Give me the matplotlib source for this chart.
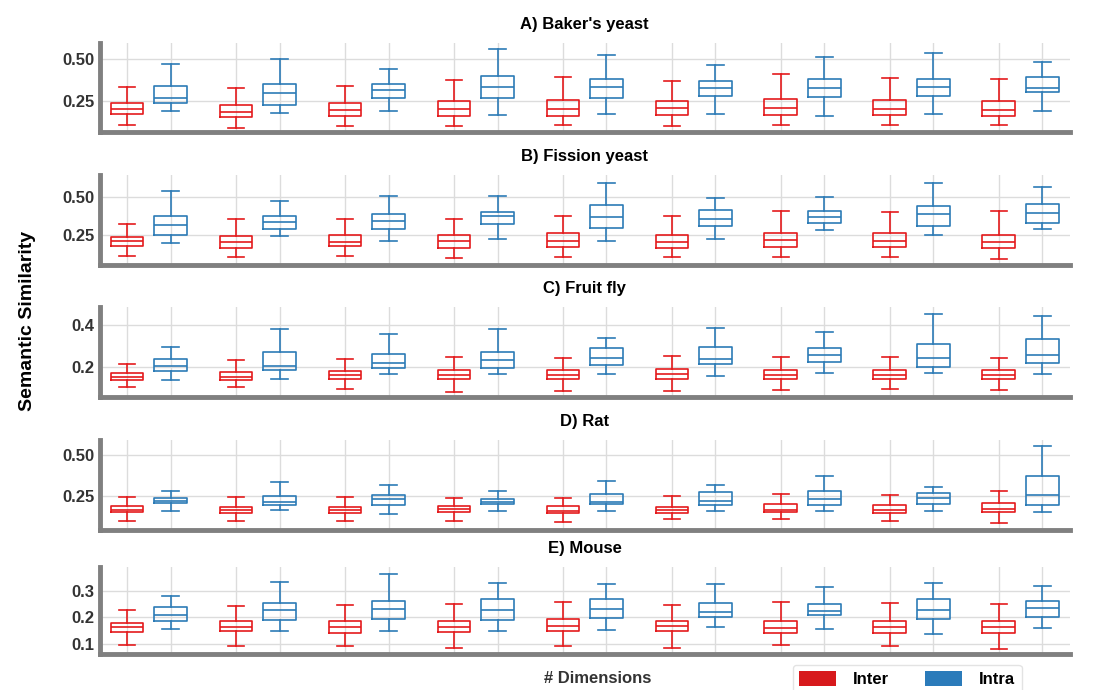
import numpy as np
import matplotlib.pyplot as plt
from matplotlib.patches import Patch

plt.rcParams['font.family'] = ['Liberation Sans', 'DejaVu Sans']

titles = ["A) Baker's yeast", "B) Fission yeast", "C) Fruit fly", "D) Rat", "E) Mouse"]
n_groups = 9

# each row: whislo, q1, median, q3, whishi -- one row per dimension setting
inter_A = [[0.107, 0.171, 0.200, 0.238, 0.337], [0.087, 0.153, 0.185, 0.224, 0.329],
           [0.101, 0.159, 0.196, 0.238, 0.341], [0.099, 0.159, 0.200, 0.250, 0.375],
           [0.107, 0.159, 0.200, 0.256, 0.397], [0.099, 0.165, 0.208, 0.250, 0.373],
           [0.107, 0.163, 0.206, 0.262, 0.411], [0.107, 0.163, 0.202, 0.256, 0.389],
           [0.107, 0.159, 0.198, 0.248, 0.381]]
intra_A = [[0.190, 0.236, 0.266, 0.339, 0.472], [0.179, 0.226, 0.298, 0.355, 0.502],
           [0.190, 0.268, 0.315, 0.351, 0.444], [0.165, 0.270, 0.337, 0.399, 0.560],
           [0.171, 0.268, 0.337, 0.385, 0.526], [0.171, 0.278, 0.327, 0.369, 0.468],
           [0.157, 0.276, 0.327, 0.381, 0.514], [0.169, 0.280, 0.337, 0.385, 0.536],
           [0.187, 0.302, 0.327, 0.397, 0.482]]

inter_B = [[0.111, 0.175, 0.206, 0.235, 0.319], [0.104, 0.162, 0.204, 0.243, 0.356],
           [0.111, 0.173, 0.201, 0.246, 0.352], [0.093, 0.162, 0.206, 0.246, 0.356],
           [0.102, 0.170, 0.210, 0.261, 0.378], [0.102, 0.164, 0.199, 0.250, 0.378],
           [0.102, 0.166, 0.215, 0.263, 0.405], [0.106, 0.168, 0.210, 0.263, 0.398],
           [0.091, 0.162, 0.201, 0.252, 0.405]]
intra_B = [[0.195, 0.248, 0.312, 0.378, 0.542], [0.243, 0.288, 0.336, 0.374, 0.476],
           [0.208, 0.288, 0.343, 0.387, 0.509], [0.219, 0.321, 0.374, 0.400, 0.509],
           [0.206, 0.296, 0.365, 0.447, 0.595], [0.221, 0.308, 0.352, 0.412, 0.491],
           [0.285, 0.327, 0.365, 0.405, 0.502], [0.252, 0.310, 0.389, 0.440, 0.591],
           [0.290, 0.327, 0.392, 0.454, 0.569]]

inter_C = [[0.105, 0.138, 0.152, 0.170, 0.213], [0.102, 0.135, 0.152, 0.175, 0.232],
           [0.094, 0.143, 0.162, 0.181, 0.237], [0.078, 0.141, 0.160, 0.186, 0.246],
           [0.086, 0.141, 0.160, 0.184, 0.244], [0.084, 0.143, 0.165, 0.189, 0.254],
           [0.089, 0.140, 0.160, 0.184, 0.246], [0.095, 0.140, 0.162, 0.184, 0.249],
           [0.089, 0.141, 0.160, 0.184, 0.243]]
intra_C = [[0.138, 0.181, 0.205, 0.237, 0.294], [0.144, 0.183, 0.205, 0.271, 0.381],
           [0.167, 0.195, 0.219, 0.260, 0.356], [0.167, 0.195, 0.233, 0.271, 0.381],
           [0.167, 0.210, 0.241, 0.289, 0.341], [0.156, 0.214, 0.237, 0.294, 0.387],
           [0.171, 0.222, 0.256, 0.289, 0.367], [0.171, 0.200, 0.241, 0.310, 0.456],
           [0.167, 0.219, 0.256, 0.333, 0.443]]

inter_D = [[0.095, 0.147, 0.165, 0.184, 0.240], [0.097, 0.145, 0.163, 0.182, 0.240],
           [0.095, 0.141, 0.163, 0.182, 0.244], [0.095, 0.147, 0.167, 0.188, 0.233],
           [0.087, 0.143, 0.159, 0.184, 0.238], [0.107, 0.141, 0.163, 0.182, 0.246],
           [0.107, 0.147, 0.165, 0.196, 0.262], [0.093, 0.143, 0.163, 0.190, 0.256],
           [0.083, 0.147, 0.167, 0.202, 0.281]]
intra_D = [[0.155, 0.202, 0.219, 0.238, 0.279], [0.161, 0.192, 0.213, 0.250, 0.331],
           [0.136, 0.190, 0.231, 0.256, 0.316], [0.159, 0.198, 0.213, 0.231, 0.277],
           [0.159, 0.196, 0.213, 0.262, 0.337], [0.155, 0.190, 0.217, 0.271, 0.316],
           [0.155, 0.190, 0.227, 0.281, 0.372], [0.159, 0.200, 0.238, 0.267, 0.306],
           [0.151, 0.192, 0.252, 0.372, 0.554]]

inter_E = [[0.093, 0.145, 0.162, 0.178, 0.228], [0.090, 0.146, 0.163, 0.184, 0.244],
           [0.090, 0.141, 0.162, 0.184, 0.248], [0.085, 0.144, 0.163, 0.187, 0.252],
           [0.090, 0.146, 0.168, 0.192, 0.259], [0.085, 0.146, 0.166, 0.186, 0.248],
           [0.093, 0.140, 0.161, 0.186, 0.259], [0.090, 0.141, 0.162, 0.186, 0.255],
           [0.081, 0.140, 0.162, 0.186, 0.252]]
intra_E = [[0.156, 0.186, 0.208, 0.238, 0.280], [0.147, 0.191, 0.227, 0.255, 0.335],
           [0.147, 0.192, 0.230, 0.263, 0.366], [0.146, 0.191, 0.227, 0.268, 0.331],
           [0.153, 0.198, 0.232, 0.268, 0.326], [0.162, 0.202, 0.221, 0.255, 0.326],
           [0.155, 0.207, 0.224, 0.252, 0.316], [0.137, 0.194, 0.229, 0.270, 0.331],
           [0.161, 0.201, 0.235, 0.263, 0.320]]

inter_all = [inter_A, inter_B, inter_C, inter_D, inter_E]
intra_all = [intra_A, intra_B, intra_C, intra_D, intra_E]
ylims = [(0.065, 0.60), (0.05, 0.645), (0.057, 0.487), (0.04, 0.59), (0.06, 0.39)]
yticks = [[0.25, 0.50], [0.25, 0.50], [0.2, 0.4], [0.25, 0.50], [0.1, 0.2, 0.3]]
ytick_fmt = ['{:.2f}', '{:.2f}', '{:.1f}', '{:.2f}', '{:.1f}']

red = '#e41a1c'
blue = '#2c7bb6'
spine_gray = '#808080'

# axes boxes in figure fraction
ax_bottoms = [0.809, 0.616, 0.425, 0.232, 0.052]
ax_heights = [0.129, 0.130, 0.130, 0.130, 0.126]

fig = plt.figure(figsize=(10.97, 6.90), dpi=100)


def to_stats(rows):
    return [dict(whislo=r[0], q1=r[1], med=r[2], q3=r[3], whishi=r[4], fliers=[]) for r in rows]


for k in range(5):
    ax = fig.add_axes([0.091, ax_bottoms[k], 0.884, ax_heights[k]])
    centers = np.arange(n_groups)
    for rows, col, off in [(inter_all[k], red, -0.2), (intra_all[k], blue, 0.2)]:
        ax.bxp(to_stats(rows), positions=centers + off, widths=0.3, showfliers=False,
               patch_artist=False,
               boxprops=dict(color=col, linewidth=1.2),
               medianprops=dict(color=col, linewidth=1.2),
               whiskerprops=dict(color=col, linewidth=1.2),
               capprops=dict(color=col, linewidth=1.2),
               capwidths=0.15, zorder=3)
    ax.set_xlim(-0.45, n_groups - 0.55)
    ax.set_ylim(*ylims[k])
    xt = np.sort(np.concatenate([centers - 0.2, centers + 0.2]))
    ax.set_xticks(xt)
    ax.set_xticklabels([])
    ax.tick_params(axis='x', length=0)
    ax.set_yticks(yticks[k])
    ax.set_yticklabels([ytick_fmt[k].format(v) for v in yticks[k]],
                       fontsize=12, fontweight='bold', color='#333333')
    ax.tick_params(axis='y', length=0, pad=4)
    ax.grid(True, color='#dcdcdc', linewidth=1.0, zorder=0)
    ax.set_axisbelow(True)
    for s in ['top', 'right']:
        ax.spines[s].set_visible(False)
    for s in ['left', 'bottom']:
        ax.spines[s].set_color(spine_gray)
        ax.spines[s].set_linewidth(3.5)
    ax.set_title(titles[k], fontsize=12, fontweight='bold', pad=10)

fig.text(0.025, 0.535, 'Semantic Similarity', rotation=90, ha='center', va='center',
         fontsize=14, fontweight='bold')
fig.text(0.545, 0.017, '# Dimensions', ha='center', va='center',
         fontsize=12, fontweight='bold', color='#333333')

handles = [Patch(facecolor='#d7191c', edgecolor='none', label='Inter'),
           Patch(facecolor='#2b7bba', edgecolor='none', label='Intra')]
leg = fig.legend(handles=handles, loc='lower left', bbox_to_anchor=(0.715, -0.018),
                 ncol=2, frameon=True, prop={'weight': 'bold', 'size': 12},
                 handlelength=2.2, handleheight=1.0, handletextpad=1.0,
                 columnspacing=2.2, borderpad=0.4)
leg.get_frame().set_edgecolor('#dddddd')

fig.savefig('out.png', dpi=100)
